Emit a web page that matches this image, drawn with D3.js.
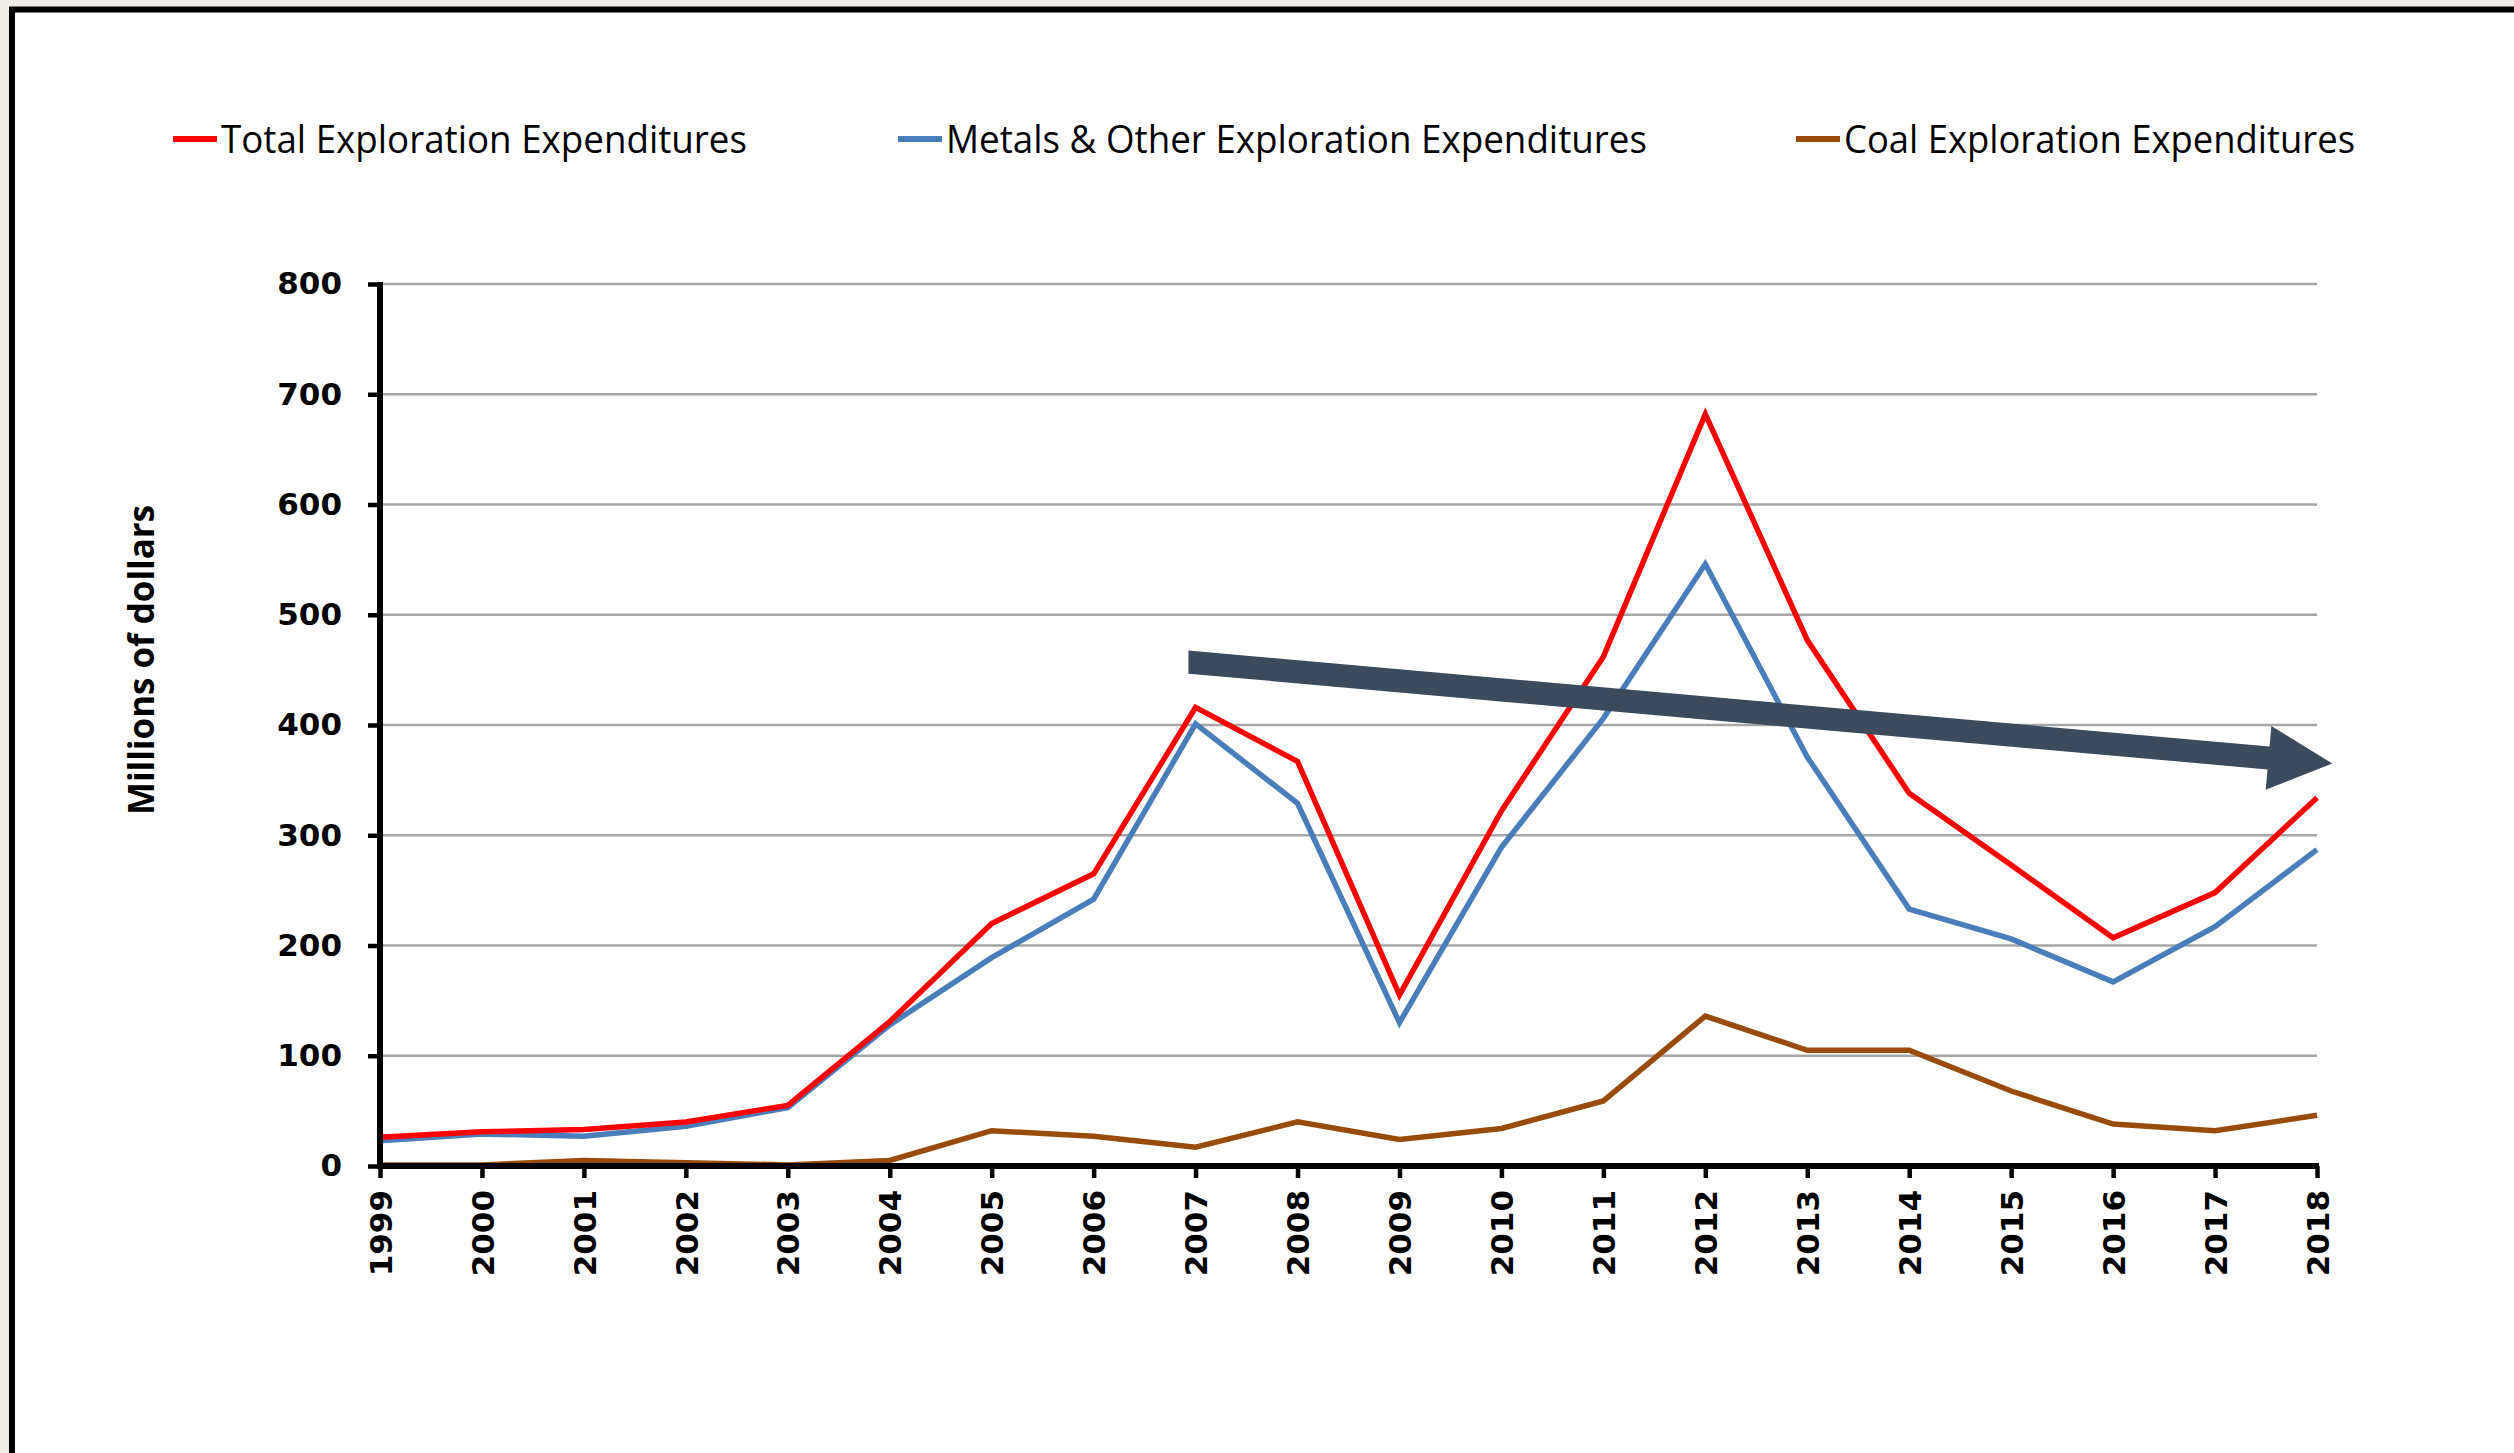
<!DOCTYPE html>
<html>
<head>
<meta charset="utf-8">
<script src="https://cdn.jsdelivr.net/npm/d3@7"></script>
<style>
  html, body { margin: 0; padding: 0; background: #efece6; }
  #main { width: 2514px; height: 1453px; overflow: hidden; }
</style>
</head>
<body>
<div id="main"></div>
<script>
// years on the x axis
const years = [1999, 2000, 2001, 2002, 2003, 2004, 2005, 2006, 2007, 2008,
               2009, 2010, 2011, 2012, 2013, 2014, 2015, 2016, 2017, 2018];

// values in millions of dollars
const totalValues  = [26, 31, 33, 40, 55, 131, 220, 265, 416, 367, 155, 322, 462, 682, 477, 338, 273, 207, 248, 334];
const metalsValues = [23, 29, 27, 36, 53, 128, 189, 242, 401, 329, 130, 289, 406, 546, 371, 233, 206, 167, 217, 287];
const coalValues   = [1, 1, 5, 3, 1, 5, 32, 27, 17, 40, 24, 34, 59, 136, 105, 105, 68, 38, 32, 46];

const seriesNames = ['Total Exploration Expenditures', 'Metals & Other Exploration Expenditures', 'Coal Exploration Expenditures'];
const yTicks = [0, 100, 200, 300, 400, 500, 600, 700, 800];

// trend arrow drawn on top, given in data units: [year, value]
const arrowFrom = [2006.93, 457];
const arrowTo = [2018.15, 365];

const width = 2514, height = 1453;
const colors = ['#ff0000', '#4a7ebb', '#994c0a'];

let svg = d3.select('#main')
    .append('svg')
        .attr('width', width)
        .attr('height', height);

// white page with a heavy black frame
svg.append('rect')
    .attr('x', 12).attr('y', 9.5)
    .attr('width', 2510).attr('height', 1450)
    .attr('fill', '#ffffff')
    .attr('stroke', '#000')
    .attr('stroke-width', 6);

const x = d3.scaleLinear().domain([1999, 2018]).range([380, 2317]);
const y = d3.scaleLinear().domain([0, 800]).range([1166, 284]);

// gridlines
svg.selectAll('.grid')
    .data(yTicks.filter(d => d > 0))
    .enter()
    .append('line')
        .attr('class', 'grid')
        .attr('x1', x(1999)).attr('x2', x(2018))
        .attr('y1', d => y(d)).attr('y2', d => y(d))
        .attr('stroke', '#a6a6a6')
        .attr('stroke-width', 2.5);

// series lines
const allSeries = [totalValues, metalsValues, coalValues];
const line = d3.line()
    .x((d, i) => x(years[i]))
    .y(d => y(d));

// coal first so that it sits under the others, like the original
[2, 1, 0].forEach(k => {
    svg.append('path')
        .datum(allSeries[k])
        .attr('d', line)
        .attr('fill', 'none')
        .attr('stroke', colors[k])
        .attr('stroke-width', 5.5)
        .attr('stroke-linejoin', 'miter');
});

// axes
const tickFont = "'DejaVu Sans', Verdana, sans-serif";

let yAxis = svg.append('g')
    .attr('transform', `translate(${x(1999)},0)`)
    .call(d3.axisLeft(y).tickValues(yTicks).tickSize(12).tickPadding(26).tickSizeOuter(0));
yAxis.select('.domain').remove();
yAxis.selectAll('.tick line').attr('stroke', '#000').attr('stroke-width', 4.5);
yAxis.selectAll('text')
    .style('font-family', tickFont)
    .style('font-weight', 'bold')
    .style('font-size', '31px')
    .attr('fill', '#000');

let xAxis = svg.append('g')
    .attr('transform', `translate(0,${y(0)})`)
    .call(d3.axisBottom(x).tickValues(years).tickFormat(d3.format('d')).tickSize(12).tickSizeOuter(0));
xAxis.select('.domain').remove();
xAxis.selectAll('.tick line').attr('stroke', '#000').attr('stroke-width', 4.5);
xAxis.selectAll('text')
    .attr('transform', 'rotate(-90)')
    .attr('x', -24)
    .attr('y', 0)
    .attr('dy', '0.36em')
    .attr('text-anchor', 'end')
    .style('font-family', tickFont)
    .style('font-weight', 'bold')
    .style('font-size', '31px')
    .attr('fill', '#000');

// heavy axis lines
svg.append('line')
    .attr('x1', x(1999)).attr('x2', x(1999))
    .attr('y1', y(800) - 2).attr('y2', y(0) + 3)
    .attr('stroke', '#000').attr('stroke-width', 6);
svg.append('line')
    .attr('x1', x(1999) - 3).attr('x2', x(2018) + 2)
    .attr('y1', y(0)).attr('y2', y(0))
    .attr('stroke', '#000').attr('stroke-width', 6);

// y axis title
const narrowFont = "'Liberation Sans Narrow', 'Open Sans', sans-serif";
svg.append('text')
    .attr('transform', 'translate(141,660) rotate(-90)')
    .attr('text-anchor', 'middle')
    .attr('dy', '0.35em')
    .attr('textLength', 310)
    .attr('lengthAdjust', 'spacingAndGlyphs')
    .style('font-family', narrowFont)
    .style('font-weight', 'bold')
    .style('font-size', '36px')
    .text('Millions of dollars');

// legend
const legendX = [173, 898, 1796];
const legendTextW = [526, 701, 511];
let legend = svg.selectAll('.legend')
    .data(seriesNames)
    .enter()
    .append('g')
        .attr('class', 'legend')
        .attr('transform', (d, i) => `translate(${legendX[i]},139)`);
legend.append('line')
    .attr('x1', 0).attr('x2', 44)
    .attr('stroke', (d, i) => colors[i])
    .attr('stroke-width', 6);
legend.append('text')
    .attr('x', 48)
    .attr('dy', '0.36em')
    .attr('textLength', (d, i) => legendTextW[i])
    .attr('lengthAdjust', 'spacingAndGlyphs')
    .style('font-family', narrowFont)
    .style('font-size', '38px')
    .attr('fill', '#000')
    .text(d => d);

// trend arrow
const p0 = [x(arrowFrom[0]), y(arrowFrom[1])];
const p1 = [x(arrowTo[0]), y(arrowTo[1])];
const len = Math.hypot(p1[0] - p0[0], p1[1] - p0[1]);
const ux = (p1[0] - p0[0]) / len, uy = (p1[1] - p0[1]) / len;
const nx = -uy, ny = ux;
const shaftHalf = 11.5, headHalf = 32, headLen = 64;
const hb = [p1[0] - ux * headLen, p1[1] - uy * headLen];
const arrowPts = [
    [p0[0], p0[1] - shaftHalf / ux],
    [hb[0] - nx * shaftHalf, hb[1] - ny * shaftHalf],
    [hb[0] - nx * headHalf, hb[1] - ny * headHalf],
    p1,
    [hb[0] + nx * headHalf, hb[1] + ny * headHalf],
    [hb[0] + nx * shaftHalf, hb[1] + ny * shaftHalf],
    [p0[0], p0[1] + shaftHalf / ux]
];
svg.append('polygon')
    .attr('points', arrowPts.map(p => p.join(',')).join(' '))
    .attr('fill', '#3b4b5c');
</script>
</body>
</html>
